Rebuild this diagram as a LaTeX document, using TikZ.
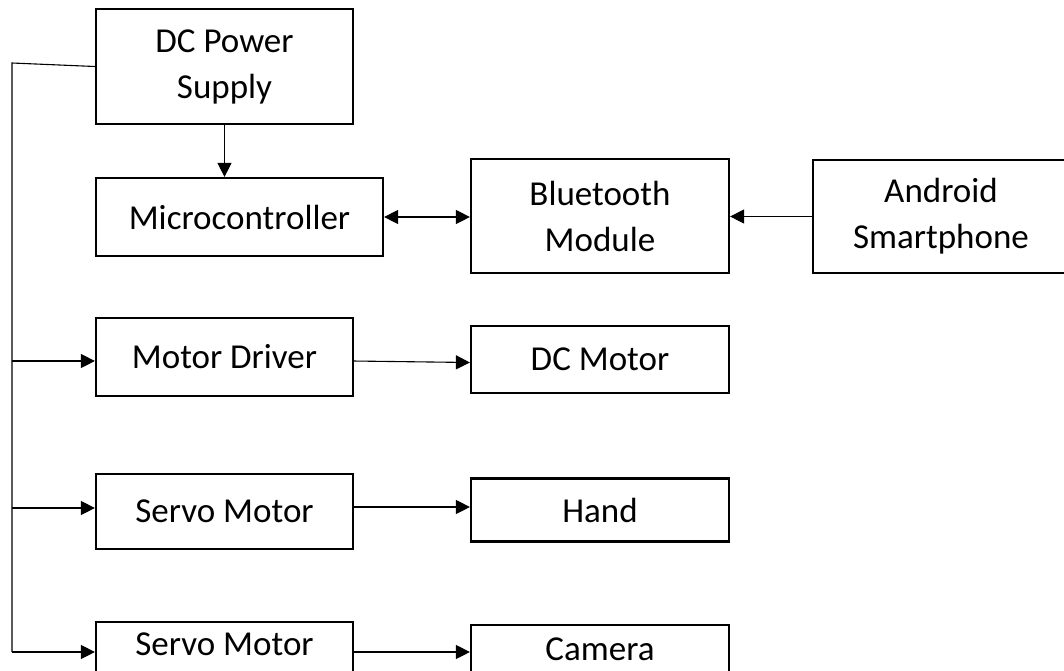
\documentclass[tikz,border=0pt]{standalone}
\usepackage{fontspec}
\setmainfont{Carlito}
\usetikzlibrary{arrows.meta,calc}
\begin{document}
\begin{tikzpicture}[x=1pt,y=-1pt,
  box/.style={draw, line width=2.2pt, inner sep=0pt, align=center,
    font=\fontsize{35}{46}\selectfont},
  lbl/.style={inner sep=0pt, align=center, font=\fontsize{35}{46}\selectfont},
  conn/.style={line width=1.1pt},
  arr/.style={line width=1.1pt, -{Triangle[length=14pt,width=14pt]}},
  darr/.style={line width=1.1pt, {Triangle[length=14pt,width=14pt]}-{Triangle[length=14pt,width=14pt]}}]
\useasboundingbox (0,0) rectangle (1064,670);
\clip (0,0) rectangle (1064,670);
\fill[white] (0,0) rectangle (1064,670);

\node[box, minimum width=257pt, minimum height=115pt] (ps) at (224.5,66.5) {DC Power\\Supply};
\node[box, minimum width=287pt, minimum height=78pt] (mc) at (239.5,217) {Microcontroller};
\node[box, minimum width=258pt, minimum height=114pt] (bt) at (600,216) {Bluetooth\\Module};
\node[box, minimum width=256pt, minimum height=113pt] (an) at (941,216.5) {Android\\Smartphone};
\node[box, minimum width=257pt, minimum height=78pt] (md) at (224.5,357) {Motor Driver};
\node[box, minimum width=258pt, minimum height=67pt] (dcm) at (600,359.5) {DC Motor};
\node[box, minimum width=257pt, minimum height=75pt] (sv1) at (224.5,511.5) {Servo Motor};
\node[box, minimum width=258pt, minimum height=63pt] (hand) at (600,510) {Hand};
\node[box, minimum width=257pt, minimum height=90pt] (sv2) at (224.5,667) {};
\node[lbl] (sv2t) at (224.5,644) {Servo Motor};
\node[box, minimum width=258pt, minimum height=90pt] (cam) at (600,670) {};
\node[lbl] (camt) at (600,649) {Camera};

% power supply to microcontroller
\draw[arr] (ps.south) -- (ps.south |- mc.north);
% microcontroller <-> bluetooth
\draw[darr] (mc.east) -- (mc.east -| bt.west);
% android -> bluetooth
\draw[arr] (an.west) -- (an.west -| bt.east);

% power bus on the left
\coordinate (top) at (12,63);
\coordinate (j1) at (12,361);
\coordinate (j2) at (12,508);
\coordinate (j3) at (12,652);
\draw[conn] (ps.west) -- (top) -- (j3);
\draw[arr] (j1) -- (j1 -| md.west);
\draw[arr] (j2) -- (j2 -| sv1.west);
\draw[arr] (j3) -- (j3 -| sv2.west);

% outputs
\coordinate (o1) at (353,361);
\draw[arr] (o1) -- ($(dcm.west)+(0,3)$);
\coordinate (o2) at (353,507);
\draw[arr] (o2) -- (o2 -| hand.west);
\coordinate (o3) at (353,652);
\draw[arr] (o3) -- (o3 -| cam.west);
\end{tikzpicture}
\end{document}
